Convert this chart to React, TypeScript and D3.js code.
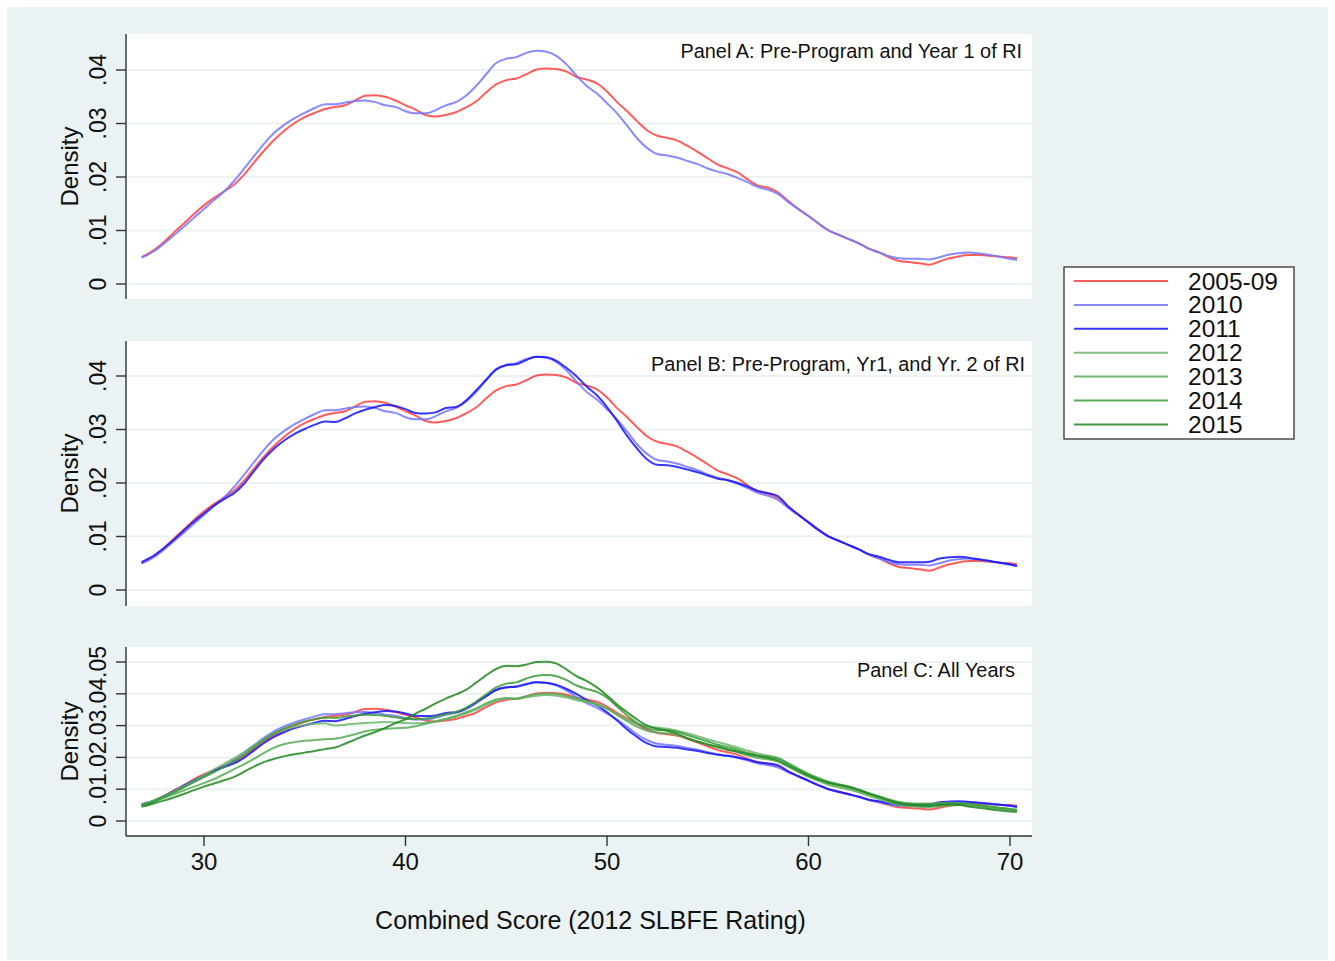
import React from 'react';
import * as d3 from 'd3';

// ---------- data ----------
// x grid: Combined Score
const SCORE: number[] = [26.9, ...d3.range(27, 70.001, 0.5), 70.35];

const SERIES_NAMES = ['2005-09', '2010', '2011', '2012', '2013', '2014', '2015'];

// densities in units of 0.001
const D_2005_09 = [
  5.0,
  5.2, 6.3, 7.8, 9.6, 11.3, 13.1, 14.7, 16.1, 17.3, 18.6,
  20.5, 22.8, 25.0, 27.0, 28.7, 30.1, 31.2, 32.0, 32.7, 33.1,
  33.4, 34.3, 35.2, 35.3, 35.0, 34.3, 33.4, 32.6, 31.6, 31.3,
  31.6, 32.1, 33.0, 34.1, 35.8, 37.3, 38.1, 38.4, 39.2, 40.1,
  40.3, 40.2, 39.7, 38.7, 38.2, 37.5, 36.0, 34.0, 32.3, 30.4,
  28.7, 27.7, 27.3, 26.8, 25.8, 24.7, 23.5, 22.3, 21.6, 20.8,
  19.5, 18.4, 18.0, 17.1, 15.5, 14.0, 12.7, 11.3, 10.0, 9.2,
  8.4, 7.6, 6.6, 5.9, 5.0, 4.3, 4.1, 3.9, 3.6, 4.2,
  4.8, 5.2, 5.4, 5.4, 5.3, 5.1,
  5.0, 4.8,
];

const D_2010 = [
  5.0,
  5.1, 6.1, 7.5, 9.1, 10.7, 12.4, 14.0, 15.7, 17.3, 19.3,
  21.6, 24.0, 26.3, 28.3, 29.8, 31.0, 32.0, 32.9, 33.6, 33.6,
  33.9, 34.2, 34.3, 34.0, 33.4, 33.1, 32.3, 31.9, 31.9, 32.5,
  33.4, 34.0, 35.2, 37.0, 39.2, 41.3, 42.1, 42.4, 43.2, 43.6,
  43.4, 42.6, 41.0, 38.9, 37.0, 35.6, 33.8, 31.9, 29.6, 27.2,
  25.4, 24.3, 24.0, 23.6, 23.0, 22.4, 21.6, 21.0, 20.5, 19.8,
  19.0, 18.1, 17.6, 16.8, 15.3, 14.0, 12.7, 11.3, 10.0, 9.2,
  8.4, 7.6, 6.6, 5.9, 5.2, 4.8, 4.7, 4.7, 4.6, 5.0,
  5.5, 5.8, 5.9, 5.7, 5.4, 5.1,
  4.7, 4.5,
];

const D_2011 = [
  5.2,
  5.4, 6.4, 7.8, 9.4, 11.1, 12.8, 14.3, 15.8, 17.0, 18.1,
  19.9, 22.3, 24.6, 26.5, 28.0, 29.2, 30.1, 30.9, 31.5, 31.4,
  32.1, 33.0, 33.7, 34.2, 34.6, 34.4, 33.8, 33.1, 33.0, 33.2,
  34.0, 34.2, 35.4, 37.3, 39.3, 41.2, 42.0, 42.2, 43.0, 43.6,
  43.5, 42.8, 41.5, 39.9, 38.0, 36.4, 34.2, 31.6, 28.8, 26.4,
  24.4, 23.4, 23.3, 23.0, 22.5, 22.0, 21.4, 20.8, 20.5, 20.0,
  19.3, 18.5, 18.1, 17.5, 15.6, 14.1, 12.6, 11.2, 10.0, 9.2,
  8.4, 7.6, 6.7, 6.2, 5.6, 5.2, 5.2, 5.2, 5.3, 5.9,
  6.1, 6.2, 6.0, 5.7, 5.4, 5.1,
  4.8, 4.5,
];

const D_2012 = [
  5.1,
  5.3, 6.5, 7.8, 9.3, 10.9, 12.6, 14.4, 16.2, 18.0, 19.8,
  21.7, 23.8, 25.8, 27.5, 28.7, 29.6, 30.2, 30.6, 30.7, 30.0,
  30.3, 30.6, 30.8, 31.0, 31.1, 31.0, 30.8, 30.7, 30.9, 31.4,
  32.1, 32.8, 33.8, 35.0, 36.5, 37.8, 38.5, 38.4, 38.9, 39.4,
  39.6, 39.4, 38.8, 38.0, 37.3, 36.4, 35.3, 33.6, 31.9, 30.6,
  29.8, 29.4, 29.0, 28.4, 27.6, 26.7, 25.7, 24.8, 24.0, 23.1,
  22.1, 21.2, 20.6, 19.8, 18.2, 16.5, 14.9, 13.6, 12.4, 11.6,
  10.8, 9.9, 8.8, 7.8, 6.8, 6.0, 5.6, 5.5, 5.5, 5.6,
  5.6, 5.5, 5.2, 4.8, 4.4, 4.0,
  3.6, 3.4,
];

const D_2013 = [
  5.0,
  5.1, 6.1, 7.2, 8.4, 9.6, 10.8, 11.9, 13.2, 14.7, 16.3,
  17.9, 19.6, 21.5, 23.1, 24.2, 24.8, 25.2, 25.5, 25.7, 25.9,
  26.5, 27.3, 28.2, 28.7, 29.0, 29.2, 29.3, 29.8, 30.6, 31.3,
  32.1, 33.0, 34.2, 35.4, 37.0, 38.2, 38.7, 38.5, 39.2, 39.9,
  40.1, 39.9, 39.3, 38.5, 37.7, 36.8, 35.4, 33.4, 31.4, 29.6,
  28.4, 27.8, 27.6, 27.0, 26.0, 25.0, 24.0, 23.0, 22.3, 21.6,
  20.6, 19.8, 19.4, 18.6, 17.0, 15.4, 13.9, 12.6, 11.4, 10.6,
  9.9, 9.0, 7.9, 6.9, 5.9, 5.1, 4.7, 4.5, 4.4, 4.6,
  4.9, 5.0, 4.9, 4.6, 4.2, 3.8,
  3.5, 3.3,
];

const D_2014 = [
  5.0,
  5.1, 6.1, 7.5, 9.0, 10.6, 12.2, 13.8, 15.4, 17.0, 18.8,
  20.9, 23.3, 25.6, 27.6, 29.2, 30.4, 31.3, 32.0, 32.5, 32.4,
  32.8, 33.2, 33.4, 33.3, 33.0, 32.6, 32.2, 32.0, 32.2, 32.8,
  33.6, 34.3, 35.6, 37.5, 39.8, 42.0, 43.2, 43.6, 44.8, 45.7,
  45.9, 45.5, 44.3, 42.6, 41.5, 40.6, 38.8, 36.0, 33.2, 30.8,
  29.2, 28.6, 28.5, 28.0, 27.0, 26.0, 25.0, 24.0, 23.2, 22.4,
  21.4, 20.6, 20.2, 19.6, 18.0, 16.2, 14.6, 13.2, 12.0, 11.2,
  10.5, 9.6, 8.5, 7.6, 6.6, 5.8, 5.4, 5.3, 5.3, 5.5,
  5.6, 5.6, 5.4, 5.0, 4.6, 4.2,
  3.8, 3.6,
];

const D_2015 = [
  4.5,
  4.6, 5.5, 6.4, 7.4, 8.5, 9.7, 10.8, 11.8, 12.8, 13.9,
  15.5, 17.2, 18.6, 19.6, 20.4, 21.0, 21.5, 22.0, 22.6, 23.1,
  24.3, 25.6, 26.9, 28.0, 29.3, 30.8, 32.0, 33.8, 35.3, 37.0,
  38.5, 39.8, 41.2, 43.5, 45.8, 47.8, 48.8, 48.7, 49.2, 50.0,
  50.1, 49.5, 47.6, 45.5, 44.0, 42.0, 39.5, 36.6, 34.2, 31.9,
  30.0, 29.0, 28.4, 27.4, 26.0, 25.0, 24.1, 23.4, 22.5, 21.8,
  21.0, 20.4, 19.8, 19.0, 17.4, 15.8, 14.3, 13.0, 12.0, 11.4,
  10.8, 9.8, 8.6, 7.5, 6.4, 5.6, 5.1, 4.9, 4.8, 5.0,
  5.2, 5.0, 4.5, 4.1, 3.7, 3.3,
  3.0, 2.9,
];

const X_TICKS = [30, 40, 50, 60, 70];
const Y_TICKS_AB = [0, 0.01, 0.02, 0.03, 0.04];
const Y_TICKS_C = [0, 0.01, 0.02, 0.03, 0.04, 0.05];
const PANEL_TITLES = [
  'Panel A: Pre-Program and Year 1 of RI',
  'Panel B: Pre-Program, Yr1, and Yr. 2 of RI',
  'Panel C: All Years',
];
const X_TITLE = 'Combined Score (2012 SLBFE Rating)';
const Y_TITLE = 'Density';

// ---------- styling / layout ----------
const ALL_SERIES = [D_2005_09, D_2010, D_2011, D_2012, D_2013, D_2014, D_2015];
const COLORS = ['#ff4040', '#7676ff', '#1414ff', '#6fb66f', '#57ab57', '#3a9b3a', '#1f881f'];
const FONT = '"Liberation Sans", Arial, Helvetica, sans-serif';

const PLOT_LEFT = 127;
const PLOT_RIGHT = 1032;

const PANELS = [
  { title: PANEL_TITLES[0], series: [0, 1], ticks: Y_TICKS_AB, top: 34, bottom: 299, zeroPx: 284, maxPx: 70, titleAt: [70.6, 0.0432], xAxis: false },
  { title: PANEL_TITLES[1], series: [0, 1, 2], ticks: Y_TICKS_AB, top: 341, bottom: 606, zeroPx: 590, maxPx: 376, titleAt: [70.75, 0.042], xAxis: false },
  { title: PANEL_TITLES[2], series: [0, 1, 2, 3, 4, 5, 6], ticks: Y_TICKS_C, top: 647, bottom: 836, zeroPx: 821, maxPx: 662, titleAt: [70.25, 0.047], xAxis: true },
];

const fmtY = (v: number) => (v === 0 ? '0' : d3.format('.2f')(v).replace(/^0/, ''));

export default function App() {
  const x = d3.scaleLinear().domain([30, 70]).range([204, 1010]);

  return (
    <svg
      width={1335}
      height={961}
      style={{ position: 'absolute', left: 0, top: 0, display: 'block' }}
      fontFamily={FONT}
    >
      <rect x={0} y={0} width={1335} height={961} fill="#ffffff" />
      <rect x={7} y={7} width={1321} height={953} fill="#eaf2f3" />

      {PANELS.map((p, pi) => {
        const yMax = p.ticks[p.ticks.length - 1];
        const y = d3.scaleLinear().domain([0, yMax]).range([p.zeroPx, p.maxPx]);
        const line = d3
          .line<number>()
          .x((_, i) => x(SCORE[i]))
          .y((d) => y(d / 1000))
          .curve(d3.curveMonotoneX);
        const midY = (p.top + p.bottom) / 2;
        return (
          <g key={pi}>
            <rect x={PLOT_LEFT} y={p.top} width={PLOT_RIGHT - PLOT_LEFT} height={p.bottom - p.top} fill="#ffffff" />
            {p.ticks.map((t) => (
              <line key={'g' + t} x1={PLOT_LEFT} x2={PLOT_RIGHT} y1={y(t)} y2={y(t)} stroke="#eaf2f3" strokeWidth={2} />
            ))}
            {p.series.map((si) => (
              <path
                key={si}
                d={line(ALL_SERIES[si]) || ''}
                fill="none"
                stroke={COLORS[si]}
                strokeWidth={2}
                strokeOpacity={0.85}
                strokeLinejoin="round"
              />
            ))}
            {/* y axis */}
            <line x1={126} x2={126} y1={p.top} y2={p.bottom} stroke="#333" strokeWidth={1.4} />
            {p.ticks.map((t) => (
              <g key={'t' + t}>
                <line x1={116} x2={126} y1={y(t)} y2={y(t)} stroke="#333" strokeWidth={1.4} />
                <text
                  transform={`translate(106,${y(t)}) rotate(-90)`}
                  textAnchor="middle"
                  fontSize={23}
                  fill="#111"
                >
                  {fmtY(t)}
                </text>
              </g>
            ))}
            <text transform={`translate(78,${midY}) rotate(-90)`} textAnchor="middle" fontSize={24} fill="#111">
              {Y_TITLE}
            </text>
            <text
              x={x(p.titleAt[0])}
              y={y(p.titleAt[1])}
              textAnchor="end"
              dominantBaseline="middle"
              fontSize={19.9}
              fill="#111"
            >
              {p.title}
            </text>
            {p.xAxis && (
              <g>
                <line x1={126} x2={PLOT_RIGHT} y1={p.bottom} y2={p.bottom} stroke="#333" strokeWidth={1.4} />
                {X_TICKS.map((t) => (
                  <g key={'x' + t}>
                    <line x1={x(t)} x2={x(t)} y1={p.bottom} y2={p.bottom + 10} stroke="#333" strokeWidth={1.4} />
                    <text x={x(t)} y={870} textAnchor="middle" fontSize={24} fill="#111">
                      {t}
                    </text>
                  </g>
                ))}
              </g>
            )}
          </g>
        );
      })}

      <text x={590.5} y={929} textAnchor="middle" fontSize={25} fill="#111">
        {X_TITLE}
      </text>

      {/* legend */}
      <g>
        <rect x={1064} y={267} width={230} height={172} fill="#ffffff" stroke="#222" strokeWidth={1.2} />
        {SERIES_NAMES.map((name, i) => {
          const ly = 281 + i * 23.9;
          return (
            <g key={name}>
              <line x1={1074} x2={1168} y1={ly} y2={ly} stroke={COLORS[i]} strokeWidth={2} strokeOpacity={0.85} />
              <text x={1188} y={ly + 8.5} fontSize={24.5} fill="#111">
                {name}
              </text>
            </g>
          );
        })}
      </g>
    </svg>
  );
}
